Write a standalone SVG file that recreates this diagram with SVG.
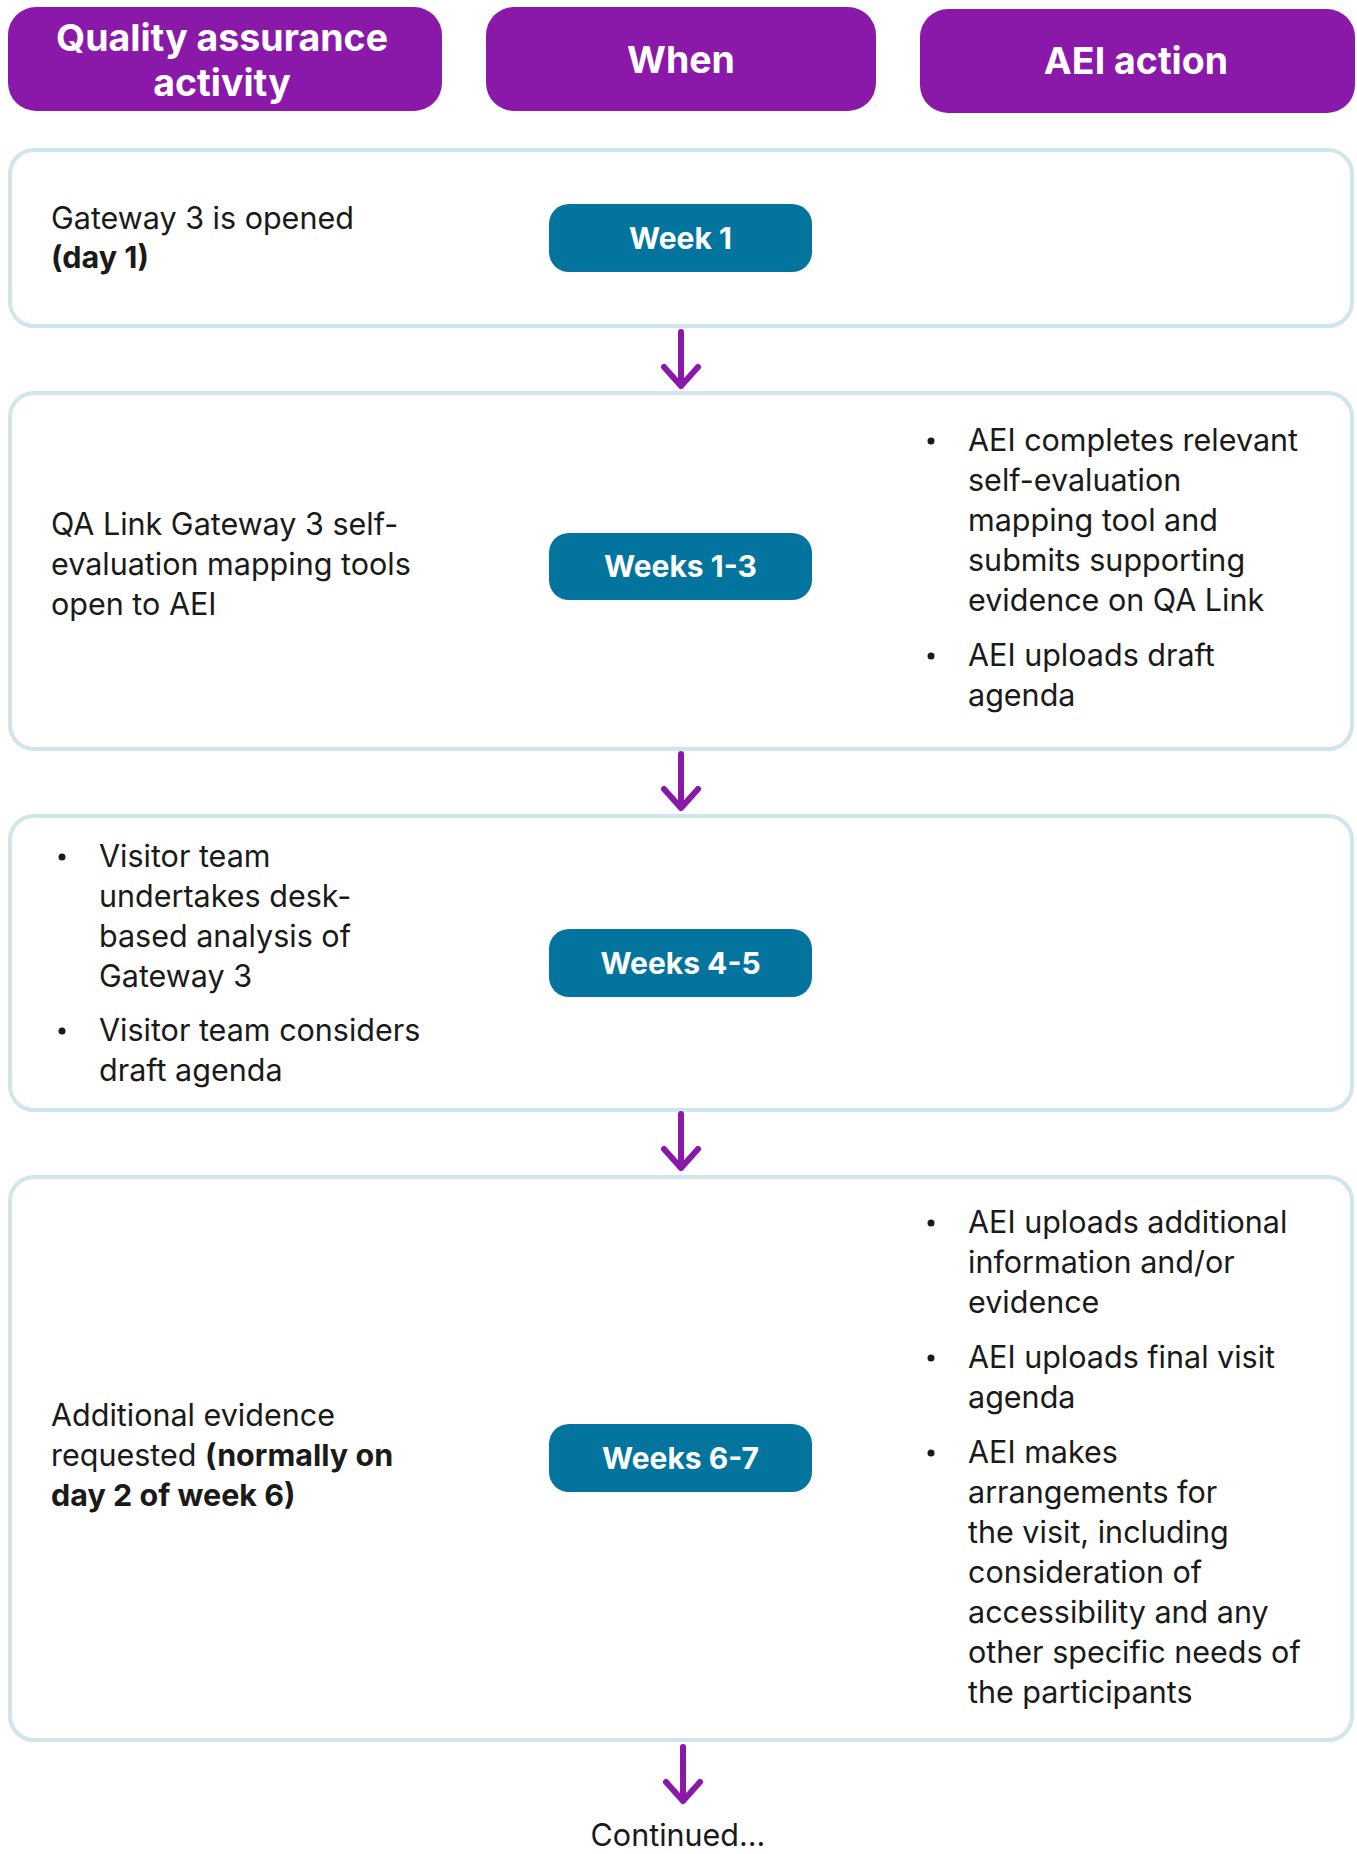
<svg xmlns="http://www.w3.org/2000/svg" width="1357" height="1854" viewBox="0 0 1357 1854">
  <defs>
    <style>
      .hdr { fill: #8A19A9; }
      .hdr-t { font-family: Inter, "Liberation Sans", sans-serif; font-weight: 700; font-size: 37.5px; fill: #ffffff; text-anchor: middle; }
      .panel { fill: #ffffff; stroke: #D0E5EC; stroke-width: 4; }
      .pill { fill: #03749D; }
      .pill-t { font-family: Inter, "Liberation Sans", sans-serif; font-weight: 700; font-size: 30px; fill: #ffffff; text-anchor: middle; }
      .body { font-family: Inter, "Liberation Sans", sans-serif; font-size: 30.5px; fill: #1a1a1a; }
      .b { font-weight: 700; }
      .bullet { fill: #1a1a1a; }
      .conn { fill: none; stroke: #8A19A9; stroke-width: 6; stroke-linecap: round; stroke-linejoin: round; }
    </style>
  </defs>

  <rect width="1357" height="1854" fill="#ffffff"/>

  <!-- Column headers -->
  <g id="header-activity">
    <rect class="hdr" x="8" y="7" width="434" height="104" rx="28"/>
    <text class="hdr-t" x="222" y="51">Quality assurance</text>
    <text class="hdr-t" x="222" y="96">activity</text>
  </g>
  <g id="header-when">
    <rect class="hdr" x="486" y="7" width="390" height="104" rx="28"/>
    <text class="hdr-t" x="681" y="73">When</text>
  </g>
  <g id="header-action">
    <rect class="hdr" x="920" y="9" width="435" height="104" rx="28"/>
    <text class="hdr-t" x="1136" y="74">AEI action</text>
  </g>

  <!-- Stage 1 -->
  <g id="stage-week1">
    <rect class="panel" x="10" y="150" width="1342" height="176" rx="24"/>
    <text class="body" x="51" y="229">Gateway 3 is opened</text>
    <text class="body b" x="51" y="268">(day 1)</text>
    <rect class="pill" x="549" y="204" width="263" height="68" rx="20"/>
    <text class="pill-t" x="680.5" y="249">Week 1</text>
  </g>

  <!-- Stage 2 -->
  <g id="stage-weeks1-3">
    <rect class="panel" x="10" y="393" width="1342" height="356" rx="24"/>
    <text class="body" x="51" y="535">QA Link Gateway 3 self-</text>
    <text class="body" x="51" y="575">evaluation mapping tools</text>
    <text class="body" x="51" y="615">open to AEI</text>
    <rect class="pill" x="549" y="533" width="263" height="67" rx="20"/>
    <text class="pill-t" x="680.5" y="577">Weeks 1-3</text>
    <circle class="bullet" cx="931" cy="441" r="3.5"/>
    <text class="body" x="968" y="451">AEI completes relevant</text>
    <text class="body" x="968" y="491">self-evaluation</text>
    <text class="body" x="968" y="531">mapping tool and</text>
    <text class="body" x="968" y="571">submits supporting</text>
    <text class="body" x="968" y="611">evidence on QA Link</text>
    <circle class="bullet" cx="931" cy="656" r="3.5"/>
    <text class="body" x="968" y="666">AEI uploads draft</text>
    <text class="body" x="968" y="706">agenda</text>
  </g>

  <!-- Stage 3 -->
  <g id="stage-weeks4-5">
    <rect class="panel" x="10" y="816" width="1342" height="294" rx="24"/>
    <circle class="bullet" cx="62" cy="857" r="3.5"/>
    <text class="body" x="99" y="867">Visitor team</text>
    <text class="body" x="99" y="907">undertakes desk-</text>
    <text class="body" x="99" y="947">based analysis of</text>
    <text class="body" x="99" y="987">Gateway 3</text>
    <circle class="bullet" cx="62" cy="1031" r="3.5"/>
    <text class="body" x="99" y="1041">Visitor team considers</text>
    <text class="body" x="99" y="1081">draft agenda</text>
    <rect class="pill" x="549" y="929" width="263" height="68" rx="20"/>
    <text class="pill-t" x="680.5" y="974">Weeks 4-5</text>
  </g>

  <!-- Stage 4 -->
  <g id="stage-weeks6-7">
    <rect class="panel" x="10" y="1177" width="1342" height="563" rx="24"/>
    <text class="body" x="51" y="1426">Additional evidence</text>
    <text class="body" x="51" y="1466">requested <tspan class="b">(normally on</tspan></text>
    <text class="body b" x="51" y="1506">day 2 of week 6)</text>
    <rect class="pill" x="549" y="1424" width="263" height="68" rx="20"/>
    <text class="pill-t" x="680.5" y="1469">Weeks 6-7</text>
    <circle class="bullet" cx="931" cy="1223" r="3.5"/>
    <text class="body" x="968" y="1233">AEI uploads additional</text>
    <text class="body" x="968" y="1273">information and/or</text>
    <text class="body" x="968" y="1313">evidence</text>
    <circle class="bullet" cx="931" cy="1358" r="3.5"/>
    <text class="body" x="968" y="1368">AEI uploads final visit</text>
    <text class="body" x="968" y="1408">agenda</text>
    <circle class="bullet" cx="931" cy="1453" r="3.5"/>
    <text class="body" x="968" y="1463">AEI makes</text>
    <text class="body" x="968" y="1503">arrangements for</text>
    <text class="body" x="968" y="1543">the visit, including</text>
    <text class="body" x="968" y="1583">consideration of</text>
    <text class="body" x="968" y="1623">accessibility and any</text>
    <text class="body" x="968" y="1663">other specific needs of</text>
    <text class="body" x="968" y="1703">the participants</text>
  </g>

  <g id="continued">
    <text class="body" x="678" y="1846" text-anchor="middle">Continued...</text>
  </g>

  <!-- Downward arrows between stages -->
  <g id="connectors">
    <path class="conn" d="M681 332 V386 M664 367 L681 386 L698 367"/>
    <path class="conn" d="M681 754 V808 M664 789 L681 808 L698 789"/>
    <path class="conn" d="M681 1114 V1168 M664 1149 L681 1168 L698 1149"/>
    <path class="conn" d="M683 1747 V1801 M666 1782 L683 1801 L700 1782"/>
  </g>
</svg>
